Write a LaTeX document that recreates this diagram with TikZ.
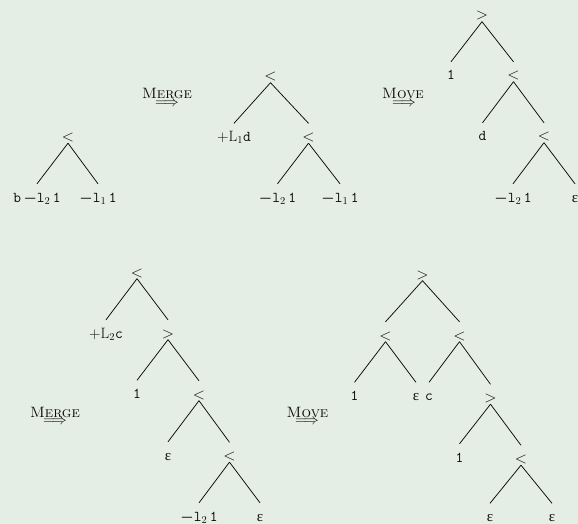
\documentclass[tikz,border=0pt]{standalone}
\usepackage{fix-cm}
\usepackage{fontspec}
\newfontfamily\grk{Liberation Serif}
\definecolor{bg}{RGB}{229,238,228}
\definecolor{ink}{RGB}{10,10,10}
\newcommand{\bmin}{\mbox{\boldmath$-$}}
\newcommand{\ttl}[1]{\texttt{l}$_{#1}$}
\newcommand{\eps}{{\grk ε}}
\begin{document}
\begin{tikzpicture}[x=1pt,y=-1pt,
  lbl/.style={anchor=base, inner xsep=1pt, inner ysep=1pt, text height=17pt, text depth=0.5pt, text=ink, font=\fontsize{15}{18}\selectfont},
  sym/.style={lbl, font=\fontsize{16}{18}\selectfont},
  tag/.style={anchor=base, inner sep=0pt, text=ink, font=\fontsize{15}{18}\selectfont},
  arr/.style={inner sep=0pt, text=ink, font=\fontsize{15}{18}\selectfont},
  br/.style={draw=ink, line width=0.75pt}]
\fill[bg] (0,0) rectangle (578,524);
\useasboundingbox (0,0) rectangle (578,524);

% Tree 1
\node[sym] (a0) at (68,141.5) {$<$};
\node[lbl] (a1) at (37,202) {\texttt{b}\,\bmin\ttl{2}\,\texttt{1}};
\node[lbl] (a2) at (98,202) {\bmin\ttl{1}\,\texttt{1}};
\draw[br] (a0.south) -- (a1.north);
\draw[br] (a0.south) -- (a2.north);

% Merge label 1
\node[tag] (m1) at (167,98.5) {\textsc{Merge}};
\node[arr] (m1a) at (167,103.5) {$\Longrightarrow$};

% Tree 2
\node[sym] (b0) at (270.5,81) {$<$};
\node[lbl] (b1) at (234,141.5) {$+$L$_1$\texttt{d}};
\node[sym] (b2) at (308.5,141.5) {$<$};
\node[lbl] (b3) at (277.5,202) {\bmin\ttl{2}\,\texttt{1}};
\node[lbl] (b4) at (340,202) {\bmin\ttl{1}\,\texttt{1}};
\draw[br] (b0.south) -- (b1.north);
\draw[br] (b0.south) -- (b2.north);
\draw[br] (b2.south) -- (b3.north);
\draw[br] (b2.south) -- (b4.north);

% Move label 1
\node[tag] (v1) at (403,98.5) {\textsc{Move}};
\node[arr] (v1a) at (404,103.5) {$\Longrightarrow$};

% Tree 3
\node[sym] (c0) at (482,20) {$>$};
\node[lbl] (c1) at (451,80) {\texttt{1}};
\node[sym] (c2) at (513.5,80) {$<$};
\node[lbl] (c3) at (482.5,141) {\texttt{d}};
\node[sym] (c4) at (544,141) {$<$};
\node[lbl] (c5) at (513,202) {\bmin\ttl{2}\,\texttt{1}};
\node[lbl] (c6) at (575,202) {\eps};
\draw[br] (c0.south) -- (c1.north);
\draw[br] (c0.south) -- (c2.north);
\draw[br] (c2.south) -- (c3.north);
\draw[br] (c2.south) -- (c4.north);
\draw[br] (c4.south) -- (c5.north);
\draw[br] (c4.south) -- (c6.north);

% Merge label 2
\node[tag] (m2) at (55,417) {\textsc{Merge}};
\node[arr] (m2a) at (55,422) {$\Longrightarrow$};

% Tree 4
\node[sym] (d0) at (137,277) {$<$};
\node[lbl] (d1) at (106,338) {$+$L$_2$\texttt{c}};
\node[sym] (d2) at (168,338) {$>$};
\node[lbl] (d3) at (137,398.5) {\texttt{1}};
\node[sym] (d4) at (199,399) {$<$};
\node[lbl] (d5) at (168,460) {\eps};
\node[sym] (d6) at (229.5,460.5) {$<$};
\node[lbl] (d7) at (199,521) {\bmin\ttl{2}\,\texttt{1}};
\node[lbl] (d8) at (260,521) {\eps};
\draw[br] (d0.south) -- (d1.north);
\draw[br] (d0.south) -- (d2.north);
\draw[br] (d2.south) -- (d3.north);
\draw[br] (d2.south) -- (d4.north);
\draw[br] (d4.south) -- (d5.north);
\draw[br] (d4.south) -- (d6.north);
\draw[br] (d6.south) -- (d7.north);
\draw[br] (d6.south) -- (d8.north);

% Move label 2
\node[tag] (v2) at (307.5,417) {\textsc{Move}};
\node[arr] (v2a) at (307,422) {$\Longrightarrow$};

% Tree 5
\node[sym] (e0) at (422.5,279) {$>$};
\node[sym] (e1) at (385.5,340) {$<$};
\node[sym] (e2) at (459.5,340) {$<$};
\node[lbl] (e3) at (354.5,400.5) {\texttt{1}};
\node[lbl] (e4) at (416,400.5) {\eps};
\node[lbl] (e5) at (429,400.5) {\texttt{c}};
\node[sym] (e6) at (490.5,402.5) {$>$};
\node[lbl] (e7) at (459.5,462) {\texttt{1}};
\node[sym] (e8) at (521,463.5) {$<$};
\node[lbl] (e9) at (490,521.5) {\eps};
\node[lbl] (e10) at (552,521.5) {\eps};
\draw[br] (e0.south) -- (e1.north);
\draw[br] (e0.south) -- (e2.north);
\draw[br] (e1.south) -- (e3.north);
\draw[br] (e1.south) -- (e4.north);
\draw[br] (e2.south) -- (e5.north);
\draw[br] (e2.south) -- (e6.north);
\draw[br] (e6.south) -- (e7.north);
\draw[br] (e6.south) -- (e8.north);
\draw[br] (e8.south) -- (e9.north);
\draw[br] (e8.south) -- (e10.north);
\end{tikzpicture}
\end{document}
